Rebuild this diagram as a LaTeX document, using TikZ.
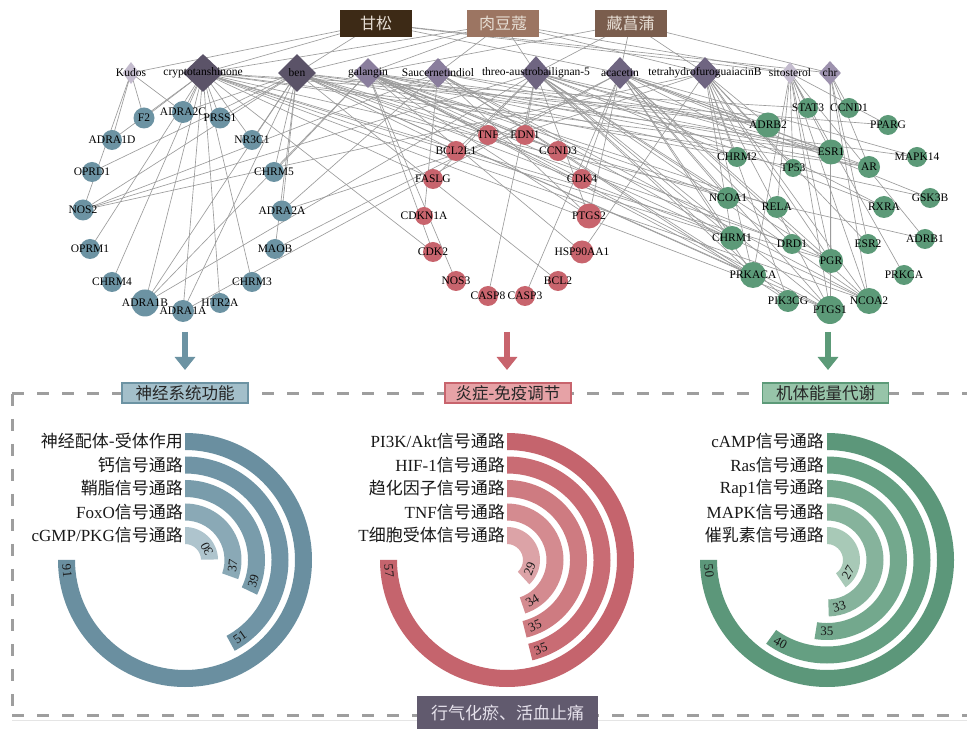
\documentclass[tikz,border=0pt]{standalone}
\usepackage{fontspec}
\setmainfont{Liberation Serif}
\newfontfamily\cjk{Noto Sans CJK SC}
\usetikzlibrary{shapes.geometric,arrows.meta,calc}
\pgfdeclarelayer{back}\pgfdeclarelayer{bg}\pgfdeclarelayer{fg}
\pgfsetlayers{back,bg,main,fg}
\definecolor{herbA}{HTML}{3D2A16}
\definecolor{herbB}{HTML}{9C7562}
\definecolor{herbC}{HTML}{7A5D4D}
\definecolor{herbtext}{HTML}{E6DDD3}
\definecolor{cDark}{HTML}{5B5368}
\definecolor{cMidDark}{HTML}{6F6581}
\definecolor{cMid}{HTML}{8A7E9D}
\definecolor{cChr}{HTML}{9D92AE}
\definecolor{cLight}{HTML}{C4BCCE}
\definecolor{blueN}{HTML}{6C93A3}
\definecolor{redN}{HTML}{C8646D}
\definecolor{greenN}{HTML}{5C9A78}
\definecolor{edgegray}{HTML}{9C9C9C}
\definecolor{dashgray}{HTML}{9E9E9E}
\definecolor{catBfill}{HTML}{A3BFCA}
\definecolor{catRfill}{HTML}{E6A2A6}
\definecolor{catGfill}{HTML}{97C4A9}
\definecolor{botfill}{HTML}{615A6E}
\definecolor{bottext}{HTML}{E6E2EC}
\definecolor{bA}{HTML}{6A8FA0}\definecolor{bB}{HTML}{7094A5}\definecolor{bC}{HTML}{799CAB}
\definecolor{bD}{HTML}{8AA9B6}\definecolor{bE}{HTML}{AEC4CD}
\definecolor{rA}{HTML}{C5646D}\definecolor{rB}{HTML}{C96C74}\definecolor{rC}{HTML}{CE7B81}
\definecolor{rD}{HTML}{D48B90}\definecolor{rE}{HTML}{DCA3A7}
\definecolor{gA}{HTML}{5C977A}\definecolor{gB}{HTML}{659F82}\definecolor{gC}{HTML}{73A88D}
\definecolor{gD}{HTML}{86B39C}\definecolor{gE}{HTML}{A8C9B7}
\newcommand\myRingBar[5]{%
  \fill[#4] ($(#1)+(90:#2)$) arc[start angle=90, end angle={90-#3}, radius=#2]
    -- ($(#1)+({90-#3}:{#2-17})$) arc[start angle={90-#3}, end angle=90, radius={#2-17}] -- cycle;
  \path (#1) ++({90-#3+630/(#2-8.5)}:{#2-8.5}) node[vlab, rotate={180-#3+630/(#2-8.5)}] {#5};
}
\begin{document}
\begin{tikzpicture}[x=1pt,y=1pt,
  gene/.style={circle,inner sep=0pt,draw=none},
  glab/.style={inner sep=0pt,font=\fontsize{11.5}{12}\selectfont,text=black},
  cmp/.style={diamond,inner sep=0pt,draw=none},
  edge/.style={draw=edgegray,line width=0.65pt},
  herb/.style={minimum width=72pt,minimum height=27pt,inner sep=0pt,font=\cjk\fontsize{16}{16}\selectfont,text=herbtext},
  catbox/.style={minimum width=126pt,minimum height=20pt,inner sep=0pt,line width=1.2pt,font=\cjk\fontsize{16.5}{16.5}\selectfont,text=black!85},
  dline/.style={draw=dashgray,line width=3pt,dash pattern=on 12pt off 13pt},
  plab/.style={anchor=east,inner sep=0pt,font=\fontsize{17}{17}\selectfont,text=black!90},
  vlab/.style={inner sep=0pt,font=\fontsize{13}{13}\selectfont,text=black!90},
  bigarrow/.style={line width=6pt,-{Triangle[width=20pt,length=13pt]}}
]
\begin{pgfonlayer}{back}
\fill[white] (0,0) rectangle (967,729);
\end{pgfonlayer}
\useasboundingbox (0,0) rectangle (967,729);

% ---- frame lines
\coordinate (dTL) at (12,335); \coordinate (dTR) at (967,335);
\coordinate (dBL) at (12,14);  \coordinate (dBR) at (967,14);
\draw[dline] (dTL) -- (dTR);
\draw[dline] (dTL) -- (dBL);
\draw[dline] (dBL) -- (dBR);
\coordinate (fL) at (12,9); \coordinate (fR) at (967,9);
\draw[gray!20,line width=0.6pt] (fL) -- (fR);

% ---- herbs
\node[herb,fill=herbA] (hGS) at (376,705.5) {甘松};
\node[herb,fill=herbB] (hRDK) at (503,705.5) {肉豆蔻};
\node[herb,fill=herbC] (hZCP) at (630.5,705.5) {藏菖蒲};

% ---- compounds
\def\cmpds{kudos/131/17/22/cLight/Kudos, crypt/203/40/38/cDark/cryptotanshinone, ben/297/38/38/cDark/ben,
 gal/368/30/30/cMid/galangin, sauc/438/28/30/cMid/Saucernetindiol, threo/536/30/34/cMidDark/threo-austrobailignan-5,
 aca/620/30/32/cMidDark/acacetin, tetra/705/30/32/cMidDark/tetrahydrofuroguaiacinB, sito/790/18/22/cLight/sitosterol,
 chr/830/22/24/cChr/chr}
\foreach \n/\x/\w/\h/\c/\t in \cmpds {
  \node[cmp,fill=\c,minimum width=\w,minimum height=\h] (\n) at (\x,656) {};
}

% ---- genes
\def\bluegenes{F2/144/611/21, ADRA2C/183/617/22, PRSS1/220/611/21, ADRA1D/112/589/20, NR3C1/252/589/20,
 OPRD1/92/557/20, CHRM5/274/557/20, NOS2/83/519/21, ADRA2A/282/518/21, OPRM1/90/480/20, MAOB/275/480/20,
 CHRM4/112/447/20, CHRM3/252/447/20, ADRA1B/145/426/27, ADRA1A/183/418/22, HTR2A/220/426/20}
\def\redgenes{TNF/488/594/20, EDN1/525/594/20, BCL2L1/456/578/20, CCND3/558/578/20, FASLG/433/550/20,
 CDK4/582/550/20, CDKN1A/424/513/18, PTGS2/589/513/25, CDK2/433/477/20, HSP90AA1/582/477/23,
 NOS3/456/448/20, BCL2/558/448/20, CASP8/488/433/20, CASP3/525/433/20}
\def\greengenes{STAT3/808/621/20, CCND1/849/621/20, ADRB2/768/604/25, PPARG/888/604/20, ESR1/831/577/25,
 CHRM2/737/572/20, TP53/793/561/18, AR/869/562/22, MAPK14/917/572/20, NCOA1/728/531/22, RELA/777/522/22,
 RXRA/884/522/22, GSK3B/930/531/20, CHRM1/732/491/24, DRD1/792/485/20, ESR2/868/485/20, ADRB1/925/490/20,
 PGR/831/468/24, PRKACA/753/454/26, PRKCA/904/454/20, PIK3CG/788/428/22, PTGS1/830/419/28, NCOA2/869/428/26}
\foreach \n/\x/\y/\d in \bluegenes {\node[gene,fill=blueN,minimum size=\d] (\n) at (\x,\y) {};}
\foreach \n/\x/\y/\d in \redgenes {\node[gene,fill=redN,minimum size=\d] (\n) at (\x,\y) {};}
\foreach \n/\x/\y/\d in \greengenes {\node[gene,fill=greenN,minimum size=\d] (\n) at (\x,\y) {};}

% ---- labels on top
\begin{pgfonlayer}{fg}
\foreach \n/\x/\w/\h/\c/\t in \cmpds {\node[glab] at (\n.center) {\t};}
\foreach \n/\x/\y/\d in \bluegenes {\node[glab] at (\n.center) {\n};}
\foreach \n/\x/\y/\d in \redgenes {\node[glab] at (\n.center) {\n};}
\foreach \n/\x/\y/\d in \greengenes {\node[glab] at (\n.center) {\n};}
\end{pgfonlayer}

% ---- edges
\begin{pgfonlayer}{bg}
\foreach \a/\b in {hGS/kudos, hGS/crypt, hGS/ben, hGS/aca, hGS/sito, hGS/chr,
 hRDK/ben, hRDK/gal, hRDK/sauc, hRDK/threo, hRDK/tetra, hRDK/sito, hRDK/crypt,
 hZCP/gal, hZCP/aca, hZCP/tetra, hZCP/chr, hZCP/threo,
 kudos/F2, kudos/ADRA1D, kudos/ADRA2C, kudos/NOS2,
 crypt/ADRA2C, crypt/F2, crypt/ADRA1D, crypt/OPRM1, crypt/CHRM4, crypt/ADRA1B, crypt/ADRA1A, crypt/CHRM3,
 crypt/PRSS1, crypt/HTR2A, crypt/NR3C1, crypt/FASLG, crypt/CDK2, crypt/AR, crypt/PGR, crypt/NCOA2, crypt/PTGS1,
 crypt/CHRM1, crypt/ESR1, crypt/PPARG, crypt/ADRB1, crypt/STAT3,
 ben/ADRA2C, ben/NR3C1, ben/CHRM5, ben/ADRA2A, ben/MAOB, ben/ADRA1B, ben/ADRA1A, ben/OPRD1, ben/NOS2, ben/BCL2,
 ben/CHRM2, ben/CHRM1, ben/PRKACA, ben/NCOA1, ben/ADRB2, ben/PTGS1, ben/DRD1, ben/TNF, ben/BCL2L1, ben/PRSS1, ben/MAPK14,
 gal/CDK2, gal/NOS3, gal/TNF, gal/EDN1, gal/CCND3, gal/CDK4, gal/PTGS2, gal/ESR1, gal/AR, gal/ADRB2, gal/NCOA1,
 gal/PGR, gal/NCOA2, gal/PTGS1, gal/PRKACA, gal/ADRA1B, gal/HSP90AA1, gal/RELA, gal/CHRM5, gal/GSK3B,
 sauc/ADRB2, sauc/ESR1, sauc/PTGS2, sauc/PRKACA, sauc/CHRM1, sauc/NCOA2, sauc/NOS2, sauc/CDKN1A, sauc/PIK3CG, sauc/ADRA2A,
 threo/ADRB2, threo/CHRM2, threo/ESR1, threo/CHRM1, threo/PRKACA, threo/PTGS1, threo/PTGS2, threo/NCOA1, threo/PGR,
 threo/NOS2, threo/FASLG, threo/BCL2L1, threo/EDN1, threo/NCOA2, threo/AR, threo/RXRA, threo/PIK3CG, threo/ADRA1B, threo/CASP8,
 aca/CDK4, aca/PTGS2, aca/ESR1, aca/AR, aca/PGR, aca/NCOA2, aca/PTGS1, aca/PRKACA, aca/CHRM1, aca/NCOA1, aca/ADRB2,
 aca/MAPK14, aca/GSK3B, aca/MAOB, aca/ADRA1A, aca/CASP3, aca/RXRA, aca/DRD1,
 tetra/CHRM2, tetra/ADRB2, tetra/PTGS1, tetra/PRKACA, tetra/NCOA2, tetra/NOS2, tetra/CHRM1, tetra/HSP90AA1, tetra/TP53,
 tetra/PGR, tetra/ADRA2A, tetra/PIK3CG, tetra/ESR2,
 sito/STAT3, sito/RELA, sito/PGR, sito/PTGS1, sito/ESR1, sito/NCOA2, sito/PRKCA, sito/ADRB1, sito/PPARG, sito/TP53, sito/PRKACA,
 chr/ESR1, chr/PGR, chr/PTGS1, chr/CCND1, chr/NCOA2, chr/ESR2, chr/AR}
 {\draw[edge] (\a.center) -- (\b.center);}
\end{pgfonlayer}

% ---- big arrows
\coordinate (aLs) at (185,397); \coordinate (aLe) at (185,359);
\coordinate (aMs) at (507,397); \coordinate (aMe) at (507,359);
\coordinate (aRs) at (828,397); \coordinate (aRe) at (828,359);
\draw[bigarrow,blueN] (aLs) -- (aLe);
\draw[bigarrow,redN] (aMs) -- (aMe);
\draw[bigarrow,greenN] (aRs) -- (aRe);

% ---- category boxes
\node[catbox,fill=catBfill,draw=blueN] (catL) at (185,336) {神经系统功能};
\node[catbox,fill=catRfill,draw=redN] (catM) at (508,336) {炎症-免疫调节};
\node[catbox,fill=catGfill,draw=greenN] (catR) at (825.5,336) {机体能量代谢};
\node[minimum width=181pt,minimum height=33pt,inner sep=0pt,fill=botfill,text=bottext,
  font=\cjk\fontsize{17}{17}\selectfont] (bot) at (507.5,16.5) {行气化瘀、活血止痛};

% ---- radial charts
\coordinate (cL) at (185,169);
\coordinate (cM) at (507,169);
\coordinate (cR) at (827,169);
\myRingBar{cL}{127}{270}{bA}{91}
\myRingBar{cL}{103.5}{151.3}{bB}{51}
\myRingBar{cL}{80}{115.7}{bC}{39}
\myRingBar{cL}{56.5}{109.8}{bD}{37}
\myRingBar{cL}{33}{89}{bE}{30}
\myRingBar{cM}{127}{270}{rA}{57}
\myRingBar{cM}{103.5}{165.8}{rB}{35}
\myRingBar{cM}{80}{165.8}{rC}{35}
\myRingBar{cM}{56.5}{161.1}{rD}{34}
\myRingBar{cM}{33}{137.4}{rE}{29}
\myRingBar{cR}{127}{270}{gA}{50}
\myRingBar{cR}{103.5}{216}{gB}{40}
\myRingBar{cR}{80}{189}{gC}{35}
\myRingBar{cR}{56.5}{178.2}{gD}{33}
\myRingBar{cR}{33}{145.8}{gE}{27}

\node[plab] at ($(cL)+(-2,118.5)$) {{\cjk 神经配体-受体作用}};
\node[plab] at ($(cL)+(-2,95)$) {{\cjk 钙信号通路}};
\node[plab] at ($(cL)+(-2,71.5)$) {{\cjk 鞘脂信号通路}};
\node[plab] at ($(cL)+(-2,48)$) {FoxO{\cjk 信号通路}};
\node[plab] at ($(cL)+(-2,24.5)$) {cGMP/PKG{\cjk 信号通路}};
\node[plab] at ($(cM)+(-2,118.5)$) {PI3K/Akt{\cjk 信号通路}};
\node[plab] at ($(cM)+(-2,95)$) {HIF-1{\cjk 信号通路}};
\node[plab] at ($(cM)+(-2,71.5)$) {{\cjk 趋化因子信号通路}};
\node[plab] at ($(cM)+(-2,48)$) {TNF{\cjk 信号通路}};
\node[plab] at ($(cM)+(-2,24.5)$) {T{\cjk 细胞受体信号通路}};
\node[plab] at ($(cR)+(-3,118.5)$) {cAMP{\cjk 信号通路}};
\node[plab] at ($(cR)+(-3,95)$) {Ras{\cjk 信号通路}};
\node[plab] at ($(cR)+(-3,71.5)$) {Rap1{\cjk 信号通路}};
\node[plab] at ($(cR)+(-3,48)$) {MAPK{\cjk 信号通路}};
\node[plab] at ($(cR)+(-3,24.5)$) {{\cjk 催乳素信号通路}};
\end{tikzpicture}
\end{document}
